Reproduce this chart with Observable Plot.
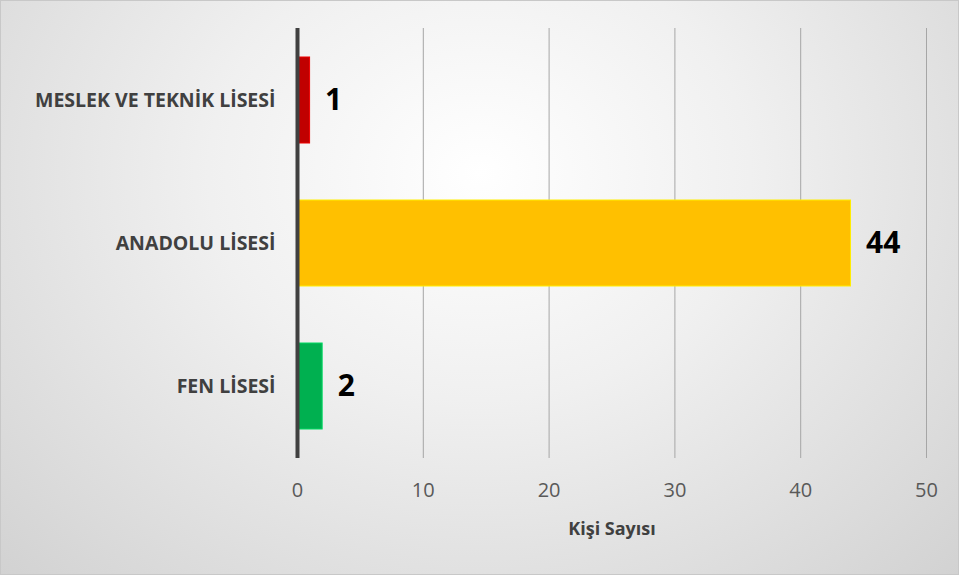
<!DOCTYPE html>
<html><head><meta charset="utf-8">
<script src="https://cdn.jsdelivr.net/npm/d3@7"></script>
<script src="https://cdn.jsdelivr.net/npm/@observablehq/plot@0.6"></script>
<style>
html,body{margin:0;padding:0;}
#wrap{width:957px;height:573px;border:1px solid #c8c8c8;background:radial-gradient(ellipse at 50% 30%, #ffffff 0%, #f0f0f0 40%, #d2d2d2 100%);overflow:hidden;}
svg{background:transparent !important;}
g.yax text{font-size:19.5px !important;font-weight:bold;fill:#404040;}
g.xax text{font-size:20px !important;fill:#595959;}
g.vals text{font-size:30px !important;font-weight:bold;fill:#000;}
g.xlab text{font-size:18px !important;font-weight:bold;fill:#404040;}
</style>
</head><body><div id="wrap"></div>
<script>
const categories = ["MESLEK VE TEKNİK LİSESİ", "ANADOLU LİSESİ", "FEN LİSESİ"];
const values = [1, 44, 2];
const colors = ["#C00000", "#FFC000", "#00B050"];
const xTicks = [0, 10, 20, 30, 40, 50];
const xLabel = "Kişi Sayısı";

const data = categories.map((c, i) => ({cat: c, val: values[i], color: colors[i]}));

const chart = Plot.plot({
  width: 957, height: 573,
  marginLeft: 296, marginRight: 32, marginTop: 27, marginBottom: 116,
  style: {fontFamily: "'Open Sans', sans-serif", background: "transparent"},
  x: {domain: [0, 50], ticks: xTicks, label: null},
  y: {domain: categories, paddingInner: 0.4, paddingOuter: 0.2, label: null},
  marks: [
    Plot.ruleX(xTicks.filter(d => d > 0), {stroke: "#a6a6a6", strokeWidth: 1}),
    Plot.barX(data, {y: "cat", x: "val", fill: "color", stroke: d => d3.color(d.color).brighter(0.6).formatHex(), strokeWidth: 1}),
    Plot.ruleX([0], {stroke: "#404040", strokeWidth: 4}),
    Plot.text(data, {y: "cat", x: "val", text: d => String(d.val), textAnchor: "start", dx: 15, className: "vals"}),
    Plot.axisX({ticks: xTicks, tickSize: 0, tickPadding: 24, label: null, className: "xax"}),
    Plot.axisY({tickSize: 0, tickPadding: 22, label: null, className: "yax"}),
    Plot.text([xLabel], {frameAnchor: "bottom", dy: 76, className: "xlab"})
  ]
});
document.getElementById("wrap").appendChild(chart);
</script>
</body></html>
